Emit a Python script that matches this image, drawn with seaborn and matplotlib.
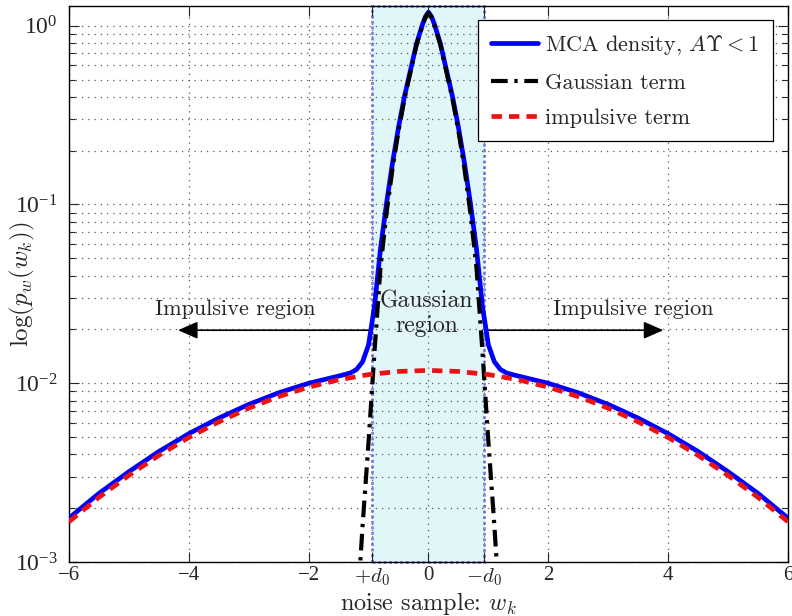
import matplotlib
matplotlib.use("Agg")
import matplotlib.pyplot as plt
import seaborn as sns
import pandas as pd
from matplotlib.patches import Rectangle
from matplotlib.ticker import LogLocator, NullFormatter, FixedLocator, FixedFormatter

# ---- data ---------------------------------------------------------------
# impulsive (m >= 1) part of the Middleton class-A density
impulsive_x = [-6.0, -5.5, -5.0, -4.5, -4.0, -3.5, -3.0, -2.5, -2.0, -1.5, -1.0, -0.5,
               0.0, 0.5, 1.0, 1.5, 2.0, 2.5, 3.0, 3.5, 4.0, 4.5, 5.0, 5.5, 6.0]
impulsive_y = [0.00168, 0.00230, 0.00305, 0.00395, 0.00497, 0.00608, 0.00725, 0.00842,
               0.00951, 0.01045, 0.01118, 0.01164, 0.01180, 0.01164, 0.01118, 0.01045,
               0.00951, 0.00842, 0.00725, 0.00608, 0.00497, 0.00395, 0.00305, 0.00230,
               0.00168]

# Gaussian (m = 0) part
gauss_x = [-1.3, -1.2, -1.1, -1.0, -0.9, -0.8, -0.7, -0.6, -0.5, -0.4, -0.3, -0.2, -0.1,
           -0.05, 0.0, 0.05, 0.1, 0.2, 0.3, 0.4, 0.5, 0.6, 0.7, 0.8, 0.9, 1.0, 1.1, 1.2, 1.3]
gauss_y = [0.00012, 0.00047, 0.00159, 0.0047, 0.0152, 0.0449, 0.0895, 0.159, 0.258, 0.391,
           0.552, 0.780, 1.005, 1.114, 1.18, 1.114, 1.005, 0.780, 0.552, 0.391, 0.258,
           0.159, 0.0895, 0.0449, 0.0152, 0.0047, 0.00159, 0.00047, 0.00012]

# full MCA density
mca_x = [-6.0, -5.5, -5.0, -4.5, -4.0, -3.5, -3.0, -2.5, -2.0, -1.5,
         -1.4, -1.3, -1.2, -1.1, -1.0, -0.9, -0.8, -0.7, -0.6, -0.5, -0.4, -0.3, -0.2,
         -0.1, -0.05, 0.0, 0.05, 0.1, 0.2, 0.3, 0.4, 0.5, 0.6, 0.7, 0.8, 0.9, 1.0, 1.1,
         1.2, 1.3, 1.4,
         1.5, 2.0, 2.5, 3.0, 3.5, 4.0, 4.5, 5.0, 5.5, 6.0]
mca_y = [0.00176, 0.00242, 0.00320, 0.00415, 0.00522, 0.00638, 0.00761, 0.00884, 0.00999,
         0.01097,
         0.01118, 0.01143, 0.01194, 0.01319, 0.0164, 0.0271, 0.0569, 0.1016, 0.171, 0.270,
         0.403, 0.564, 0.792, 1.017, 1.126, 1.192, 1.126, 1.017, 0.792, 0.564, 0.403,
         0.270, 0.171, 0.1016, 0.0569, 0.0271, 0.0164, 0.01319, 0.01194, 0.01143, 0.01118,
         0.01097, 0.00999, 0.00884, 0.00761, 0.00638, 0.00522, 0.00415, 0.00320, 0.00242,
         0.00176]

# Gaussian-region boundaries and tick labels
d0_bounds = [-0.95, 0.93]
x_tick_vals = [-6, -4, -2, -0.95, 0, 0.93, 2, 4, 6]
x_tick_labels = ["\u22126", "\u22124", "\u22122", r"$+d_0$", "0", r"$-d_0$", "2", "4", "6"]

series_labels = [r"MCA density, $A\Upsilon < 1$", "Gaussian term", "impulsive term"]

# ---- style --------------------------------------------------------------
sns.set_style("ticks")
plt.rcParams.update({
    "font.family": ["Liberation Serif", "DejaVu Serif"],
    "mathtext.fontset": "cm",
    "font.size": 15,
})
CM = ["cmr10", "DejaVu Serif"]

fig = plt.figure(figsize=(7.92, 6.16), dpi=100)
ax = fig.add_axes([0.0871, 0.0877, 0.9078, 0.9026])

# shaded Gaussian region with dotted border
rect = Rectangle((d0_bounds[0], 0), d0_bounds[1] - d0_bounds[0], 1,
                 transform=ax.get_xaxis_transform(), facecolor="#e1f6f8",
                 edgecolor="#7e7ef2", linestyle=(0, (1, 1)), linewidth=2.0,
                 zorder=0.2, clip_on=False)
ax.add_patch(rect)

df_mca = pd.DataFrame({"w": mca_x, "p": mca_y})
df_gauss = pd.DataFrame({"w": gauss_x, "p": gauss_y})
df_imp = pd.DataFrame({"w": impulsive_x, "p": impulsive_y})

sns.lineplot(data=df_mca, x="w", y="p", ax=ax, color="#0000ff", linewidth=3.4,
             label=series_labels[0], zorder=3)
sns.lineplot(data=df_gauss, x="w", y="p", ax=ax, color="black", linewidth=3.0,
             linestyle=(0, (4.0, 1.6, 0.8, 1.6)), label=series_labels[1], zorder=4)
sns.lineplot(data=df_imp, x="w", y="p", ax=ax, color="#ee1111", linewidth=3.4,
             linestyle=(0, (2.2, 1.5)), label=series_labels[2], zorder=5)

ax.set_yscale("log")
ax.set_xlim(-6, 6)
ax.set_ylim(1e-3, 1.29)

ax.xaxis.set_major_locator(FixedLocator(x_tick_vals))
ax.xaxis.set_major_formatter(FixedFormatter(x_tick_labels))
ax.yaxis.set_major_locator(LogLocator(base=10, numticks=10))
ax.yaxis.set_minor_locator(LogLocator(base=10, subs=range(2, 10), numticks=20))
ax.yaxis.set_minor_formatter(NullFormatter())

ax.set_axisbelow(True)
ax.grid(True, which="major", linestyle=(0, (1, 4)), color="0.35", linewidth=0.9)
ax.grid(True, which="minor", axis="y", linestyle=(0, (1, 4)), color="0.35", linewidth=0.9)

ax.tick_params(which="both", direction="in", top=True, right=True, width=0.8)
ax.tick_params(which="major", length=7)
ax.tick_params(axis="x", which="major", labelsize=15, pad=3)
ax.tick_params(axis="y", which="major", labelsize=17, pad=8)
ax.tick_params(which="minor", length=4)
for s in ax.spines.values():
    s.set_linewidth(1.0)
    s.set_color("black")

ax.set_xlabel(r"noise sample: $w_k$", fontsize=17.5, family=CM)
ax.xaxis.set_label_coords(0.5, -0.05)
ax.set_ylabel(r"$\log(p_w(w_k))$", fontsize=18)
ax.yaxis.set_label_coords(-0.045, 0.5)

# region annotations
arrow_kw = dict(arrowstyle="-|>,head_length=0.8,head_width=0.35", color="black",
                lw=1.2, shrinkA=0, shrinkB=0)
ax.annotate("", xy=(-4.18, 0.0198), xytext=(-0.97, 0.0198), arrowprops=arrow_kw, zorder=2)
ax.annotate("", xy=(3.92, 0.0198), xytext=(0.98, 0.0198), arrowprops=arrow_kw, zorder=2)
ax.text(-3.22, 0.0258, "Impulsive region", ha="center", va="center", fontsize=16,
        family=CM)
ax.text(3.42, 0.0258, "Impulsive region", ha="center", va="center", fontsize=16,
        family=CM)
ax.text(-0.03, 0.0244, "Gaussian\nregion", ha="center", va="center", fontsize=17,
        family=CM, linespacing=1.15)

leg = ax.legend(loc="upper right", bbox_to_anchor=(0.979, 0.975),
                prop={"family": CM, "size": 16},
                frameon=True, fancybox=False, framealpha=1, edgecolor="black",
                handlelength=2.1, handletextpad=0.35, borderpad=0.6, labelspacing=0.72,
                borderaxespad=0)
leg.get_frame().set_linewidth(0.9)
leg.set_zorder(10)

fig.savefig("out.png", dpi=100)
